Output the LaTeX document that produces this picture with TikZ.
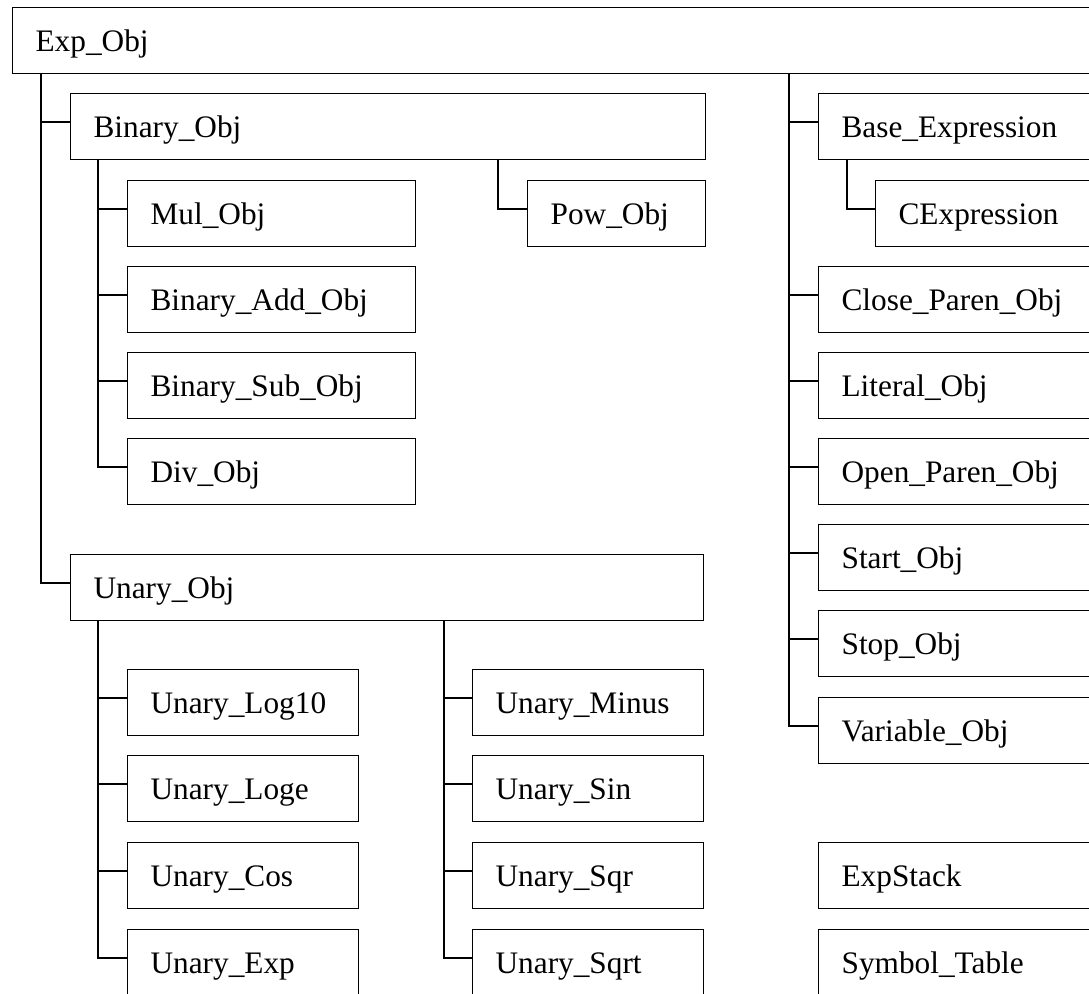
\documentclass[tikz,border=0pt]{standalone}
\usepackage{fontspec}
\setmainfont{Liberation Serif}
\tikzset{cls/.style={draw=black,line width=1.2pt,anchor=north west,minimum height=66pt,inner xsep=23pt,inner ysep=0pt,text height=24pt,text depth=2pt,align=left,text width=#1,font=\fontsize{31.3pt}{36pt}\selectfont}}
\tikzset{link/.style={line width=1.2pt}}

\begin{document}
\begin{tikzpicture}[x=1pt,y=-1pt]
\useasboundingbox (0,0) rectangle (1089,993);
\clip (0,0) rectangle (1089,993);
% class boxes
\node (exp) [cls=1062pt] at (12,7) {Exp\_Obj};
\node (binary) [cls=589pt] at (70,93) {Binary\_Obj};
\node (mul) [cls=242pt] at (127,180) {Mul\_Obj};
\node (pow) [cls=132pt] at (527,180) {Pow\_Obj};
\node (add) [cls=242pt] at (127,266) {Binary\_Add\_Obj};
\node (sub) [cls=242pt] at (127,352) {Binary\_Sub\_Obj};
\node (div) [cls=242pt] at (127,438) {Div\_Obj};
%
\node (unary) [cls=587pt] at (70,554) {Unary\_Obj};
\node (log10) [cls=185pt] at (127,669) {Unary\_Log10};
\node (loge) [cls=185pt] at (127,755) {Unary\_Loge};
\node (ucos) [cls=185pt] at (127,842) {Unary\_Cos};
\node (uexp) [cls=185pt] at (127,929) {Unary\_Exp};
\node (minus) [cls=185pt] at (472,669) {Unary\_Minus};
\node (usin) [cls=185pt] at (472,755) {Unary\_Sin};
\node (usqr) [cls=185pt] at (472,842) {Unary\_Sqr};
\node (usqrt) [cls=185pt] at (472,929) {Unary\_Sqrt};
%
\node (base) [cls=256pt] at (818,93) {Base\_Expression};
\node (cexpr) [cls=199pt] at (875,180) {CExpression};
\node (close) [cls=256pt] at (818,266) {Close\_Paren\_Obj};
\node (literal) [cls=256pt] at (818,352) {Literal\_Obj};
\node (open) [cls=256pt] at (818,438) {Open\_Paren\_Obj};
\node (start) [cls=256pt] at (818,524) {Start\_Obj};
\node (stop) [cls=256pt] at (818,610) {Stop\_Obj};
\node (variable) [cls=256pt] at (818,697) {Variable\_Obj};
\node (expstack) [cls=256pt] at (818,842) {ExpStack};
\node (symtab) [cls=256pt] at (818,929) {Symbol\_Table};
%
% tree lines
\draw[link] ([xshift=29pt]exp.south west) |- ([yshift=-29pt]binary.north west);
\draw[link] ([xshift=29pt]exp.south west) |- ([yshift=-29pt]unary.north west);
%
\draw[link] ([xshift=28pt]binary.south west) |- ([yshift=-29pt]mul.north west);
\draw[link] ([xshift=28pt]binary.south west) |- ([yshift=-29pt]add.north west);
\draw[link] ([xshift=28pt]binary.south west) |- ([yshift=-29pt]sub.north west);
\draw[link] ([xshift=28pt]binary.south west) |- ([yshift=-29pt]div.north west);
\draw[link] ([xshift=-29pt]pow.north west |- binary.south) |- ([yshift=-29pt]pow.north west);
%
\draw[link] ([xshift=28pt]unary.south west) |- ([yshift=-29pt]log10.north west);
\draw[link] ([xshift=28pt]unary.south west) |- ([yshift=-29pt]loge.north west);
\draw[link] ([xshift=28pt]unary.south west) |- ([yshift=-29pt]ucos.north west);
\draw[link] ([xshift=28pt]unary.south west) |- ([yshift=-29pt]uexp.north west);
\draw[link] ([xshift=-28pt]minus.north west |- unary.south) |- ([yshift=-29pt]minus.north west);
\draw[link] ([xshift=-28pt]minus.north west |- unary.south) |- ([yshift=-29pt]usin.north west);
\draw[link] ([xshift=-28pt]minus.north west |- unary.south) |- ([yshift=-29pt]usqr.north west);
\draw[link] ([xshift=-28pt]minus.north west |- unary.south) |- ([yshift=-29pt]usqrt.north west);
%
\draw[link] ([xshift=-29pt]base.north west |- exp.south) |- ([yshift=-29pt]base.north west);
\draw[link] ([xshift=29pt]base.south west) |- ([yshift=-29pt]cexpr.north west);
\draw[link] ([xshift=-29pt]base.north west |- exp.south) |- ([yshift=-29pt]close.north west);
\draw[link] ([xshift=-29pt]base.north west |- exp.south) |- ([yshift=-29pt]literal.north west);
\draw[link] ([xshift=-29pt]base.north west |- exp.south) |- ([yshift=-29pt]open.north west);
\draw[link] ([xshift=-29pt]base.north west |- exp.south) |- ([yshift=-29pt]start.north west);
\draw[link] ([xshift=-29pt]base.north west |- exp.south) |- ([yshift=-29pt]stop.north west);
\draw[link] ([xshift=-29pt]base.north west |- exp.south) |- ([yshift=-29pt]variable.north west);
\end{tikzpicture}
\end{document}
